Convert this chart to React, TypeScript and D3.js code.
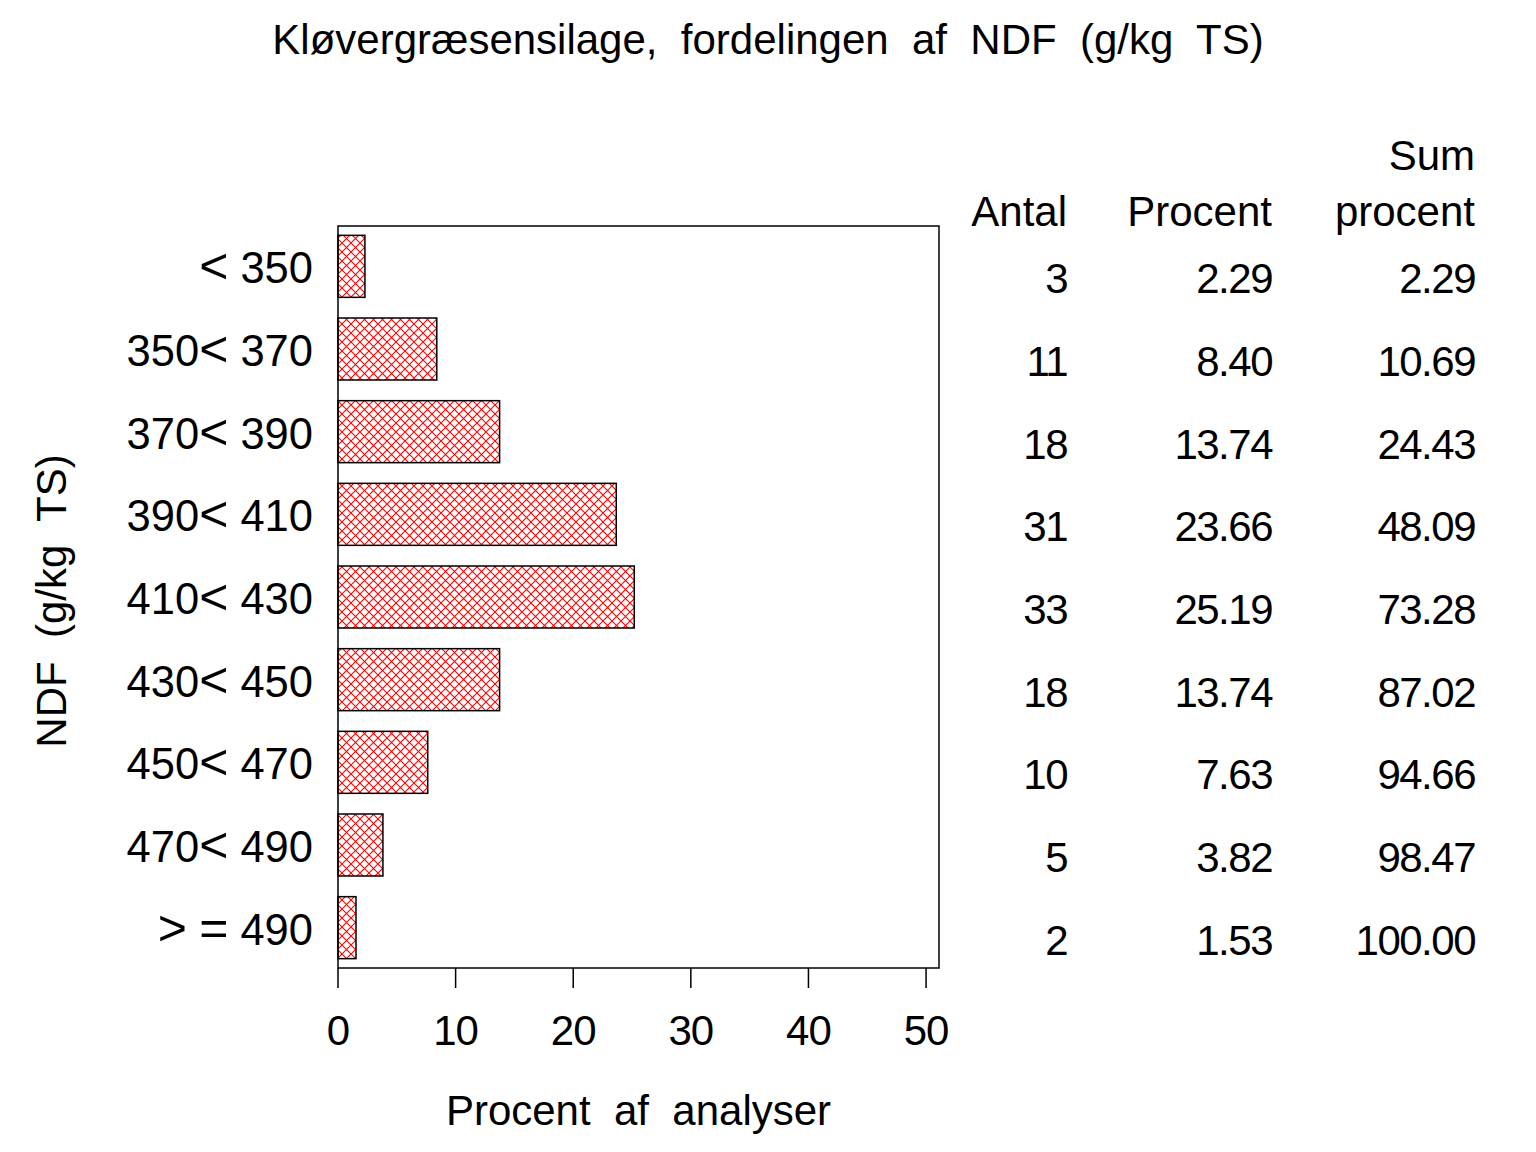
import * as d3 from "d3";

const categories = ["< 350", "350< 370", "370< 390", "390< 410", "410< 430", "430< 450", "450< 470", "470< 490", "> = 490"];
const antal = [3, 11, 18, 31, 33, 18, 10, 5, 2];
const procent = [2.29, 8.40, 13.74, 23.66, 25.19, 13.74, 7.63, 3.82, 1.53];
const sumProcent = [2.29, 10.69, 24.43, 48.09, 73.28, 87.02, 94.66, 98.47, 100.00];
const xTicks = [0, 10, 20, 30, 40, 50];

const title = "Kløvergræsensilage,  fordelingen  af  NDF  (g/kg  TS)";
const xTitle = "Procent  af  analyser";
const yTitle = "NDF  (g/kg  TS)";

const width = 1536;
const height = 1152;
const frame = { left: 338, right: 939, top: 226, bottom: 968 };
const font = "'Liberation Sans', Arial, Helvetica, sans-serif";
const fs = 42;

// symbols (<, >, =) are drawn a bit larger, as in the original
const labelParts = (s: string) => s.split(/([<>=])/).filter(p => p !== "");

const App = () => {
  const x = d3.scaleLinear().domain([0, 51.1]).range([frame.left, frame.right]);
  const y = d3.scaleBand<string>()
    .domain(categories)
    .range([frame.top, frame.bottom])
    .paddingInner(0.25)
    .paddingOuter(0.113);

  const cols = [
    { right: 1067, values: antal.map(String) },
    { right: 1272, values: procent.map(v => v.toFixed(2)) },
    { right: 1475, values: sumProcent.map(v => v.toFixed(2)) },
  ];

  return (
    <svg width={width} height={height} style={{ position: "absolute", left: 0, top: 0, background: "#fff" }}
      fontFamily={font} fontSize={fs}>
      <defs>
        <pattern id="hatch" width={9} height={9} patternUnits="userSpaceOnUse">
          <path d="M0,0L9,9M9,0L0,9" stroke="#ff0000" strokeWidth={1.1} fill="none" />
        </pattern>
      </defs>
      <rect width={width} height={height} fill="#fff" />
      <text x={768} y={54} textAnchor="middle" style={{ whiteSpace: "pre" }}>{title}</text>

      <rect x={frame.left} y={frame.top} width={frame.right - frame.left} height={frame.bottom - frame.top}
        fill="none" stroke="#000" strokeWidth={1.5} />

      {procent.map((v, i) => (
        <rect key={i} x={x(0)} y={y(categories[i])} width={x(v) - x(0)} height={y.bandwidth()}
          fill="url(#hatch)" stroke="#000" strokeWidth={1.5} />
      ))}

      {categories.map((c, i) => (
        <text key={i} x={313} y={(y(c) ?? 0) + y.bandwidth() / 2 + 17} textAnchor="end"
          fontSize={43.5} style={{ whiteSpace: "pre" }}>
          {labelParts(c).map((p, j) => (
            /[<>=]/.test(p)
              ? <tspan key={j} fontSize={50}>{p}</tspan>
              : <tspan key={j}>{p}</tspan>
          ))}
        </text>
      ))}

      {xTicks.map(t => (
        <g key={t}>
          <line x1={x(t)} x2={x(t)} y1={frame.bottom} y2={frame.bottom + 20} stroke="#000" strokeWidth={1.5} />
          <text x={x(t)} y={1045} textAnchor="middle" letterSpacing={-1}>{t}</text>
        </g>
      ))}

      <text x={(frame.left + frame.right) / 2} y={1125} textAnchor="middle" style={{ whiteSpace: "pre" }}>{xTitle}</text>
      <text transform="translate(66,601) rotate(-90)" textAnchor="middle" style={{ whiteSpace: "pre" }}>{yTitle}</text>

      <text x={1475} y={170} textAnchor="end">Sum</text>
      <text x={1067} y={226} textAnchor="end">Antal</text>
      <text x={1272} y={226} textAnchor="end">Procent</text>
      <text x={1475} y={226} textAnchor="end">procent</text>

      {cols.map((col, ci) => col.values.map((v, i) => (
        <text key={`${ci}-${i}`} x={col.right} y={(y(categories[i]) ?? 0) + y.bandwidth() / 2 + 27}
          textAnchor="end" letterSpacing={-1.5}>{v}</text>
      )))}
    </svg>
  );
};

export default App;
